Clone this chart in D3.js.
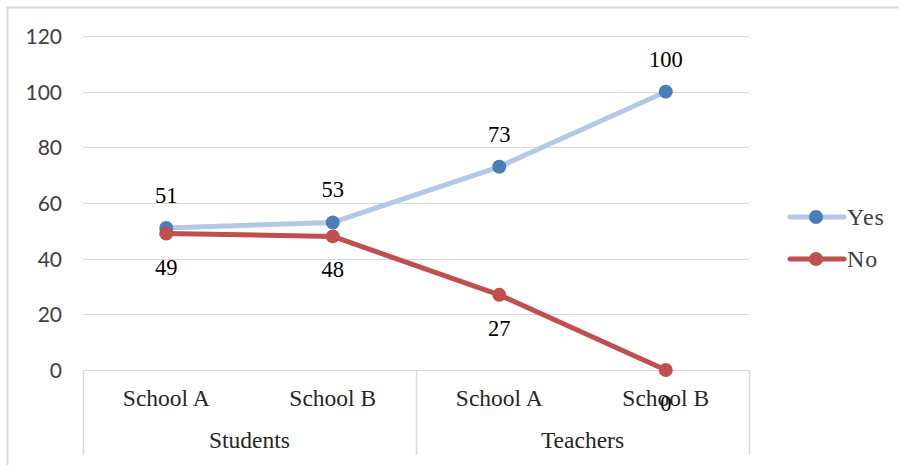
<!DOCTYPE html>
<html>
<head>
<meta charset="utf-8">
<script src="https://cdn.jsdelivr.net/npm/d3@7/dist/d3.min.js"></script>
<style>
  html, body { margin: 0; padding: 0; background: #fff; }
  svg { display: block; }
</style>
</head>
<body>
<svg id="chart" width="899" height="465"></svg>
<script>
// Survey results: Yes / No responses per school, grouped by respondent type
const groups = ["Students", "Teachers"];
const schools = ["School A", "School B", "School A", "School B"];
const groupOfCategory = ["Students", "Students", "Teachers", "Teachers"];
const yesValues = [51, 53, 73, 100];
const noValues = [49, 48, 27, 0];
const yTicks = [0, 20, 40, 60, 80, 100, 120];
const seriesNames = ["Yes", "No"];

const svg = d3.select("#chart");
const W = 899, H = 465;
const serif = "'Liberation Serif', 'Times New Roman', serif";

// outer chart frame
svg.append("rect")
  .attr("x", 7.5).attr("y", 7.5)
  .attr("width", W + 10).attr("height", H + 10)
  .attr("fill", "#fff")
  .attr("stroke", "#d9d9d9").attr("stroke-width", 2);

const plot = { left: 83, right: 749, top: 36, bottom: 370 };
const catIdx = d3.range(schools.length);

const x = d3.scaleBand()
  .domain(catIdx)
  .range([plot.left, plot.right]);

const y = d3.scaleLinear()
  .domain([0, 120])
  .range([plot.bottom, plot.top]);

const cx = i => x(i) + x.bandwidth() / 2;

// horizontal gridlines
svg.append("g")
  .selectAll("line")
  .data(yTicks)
  .join("line")
  .attr("x1", plot.left).attr("x2", plot.right)
  .attr("y1", d => Math.round(y(d)) + 0.5)
  .attr("y2", d => Math.round(y(d)) + 0.5)
  .attr("stroke", "#d9d9d9").attr("stroke-width", 1);

// y axis labels
const yAxis = d3.axisLeft(y).tickValues(yTicks).tickSize(0).tickPadding(0);
const yg = svg.append("g")
  .attr("transform", `translate(62,0)`)
  .call(yAxis);
yg.select(".domain").remove();
yg.selectAll("text")
  .attr("font-family", "Lato, 'Open Sans', sans-serif")
  .attr("font-size", 21)
  .attr("fill", "#404040")
  .attr("dy", "0.36em");

// multi-level category axis
const axisBottom = 455;
const catAxis = svg.append("g");
const dividers = [plot.left, cx(1) + x.bandwidth() / 2, plot.right];
catAxis.selectAll("line.div")
  .data(dividers)
  .join("line")
  .attr("class", "div")
  .attr("x1", d => Math.round(d) + 0.5).attr("x2", d => Math.round(d) + 0.5)
  .attr("y1", plot.bottom).attr("y2", axisBottom)
  .attr("stroke", "#d9d9d9").attr("stroke-width", 1.5);

catAxis.selectAll("text.school")
  .data(catIdx)
  .join("text")
  .attr("class", "school")
  .attr("x", i => cx(i))
  .attr("y", 406)
  .attr("text-anchor", "middle")
  .attr("font-family", serif)
  .attr("font-size", 23.5)
  .attr("fill", "#262626")
  .text(i => schools[i]);

catAxis.selectAll("text.group")
  .data(groups)
  .join("text")
  .attr("class", "group")
  .attr("x", g => {
    const idx = catIdx.filter(i => groupOfCategory[i] === g);
    return (x(idx[0]) + x(idx[idx.length - 1]) + x.bandwidth()) / 2;
  })
  .attr("y", 448)
  .attr("text-anchor", "middle")
  .attr("font-family", serif)
  .attr("font-size", 23.5)
  .attr("fill", "#262626")
  .text(g => g);

// series
const series = [
  { name: seriesNames[0], values: yesValues, line: "#b4c7e7", marker: "#4a7ebb", labelDy: -25 },
  { name: seriesNames[1], values: noValues, line: "#c0504d", marker: "#c0504d", labelDy: 41 }
];

const lineGen = d3.line().x((d, i) => cx(i)).y(d => y(d));

series.forEach(s => {
  const g = svg.append("g");
  g.append("path")
    .datum(s.values)
    .attr("d", lineGen)
    .attr("fill", "none")
    .attr("stroke", s.line)
    .attr("stroke-width", 5)
    .attr("stroke-linejoin", "round")
    .attr("stroke-linecap", "round");
  g.selectAll("circle")
    .data(s.values)
    .join("circle")
    .attr("cx", (d, i) => cx(i))
    .attr("cy", d => y(d))
    .attr("r", 7)
    .attr("fill", s.marker);
});

// data labels
series.forEach(s => {
  svg.append("g").selectAll("text")
    .data(s.values)
    .join("text")
    .attr("x", (d, i) => cx(i))
    .attr("y", d => y(d) + s.labelDy)
    .attr("text-anchor", "middle")
    .attr("font-family", serif)
    .attr("font-size", 22.5)
    .attr("fill", "#000")
    .text(d => d);
});

// legend
const legend = svg.append("g");
series.forEach((s, k) => {
  const ly = 217 + k * 42;
  legend.append("line")
    .attr("x1", 790).attr("x2", 844)
    .attr("y1", ly).attr("y2", ly)
    .attr("stroke", s.line).attr("stroke-width", 5)
    .attr("stroke-linecap", "round");
  legend.append("circle")
    .attr("cx", 816).attr("cy", ly).attr("r", 7)
    .attr("fill", s.marker);
  legend.append("text")
    .attr("x", 847).attr("y", ly + 8)
    .attr("font-family", serif)
    .attr("font-size", 24)
    .attr("letter-spacing", 1)
    .attr("fill", "#404040")
    .text(s.name);
});
</script>
</body>
</html>
